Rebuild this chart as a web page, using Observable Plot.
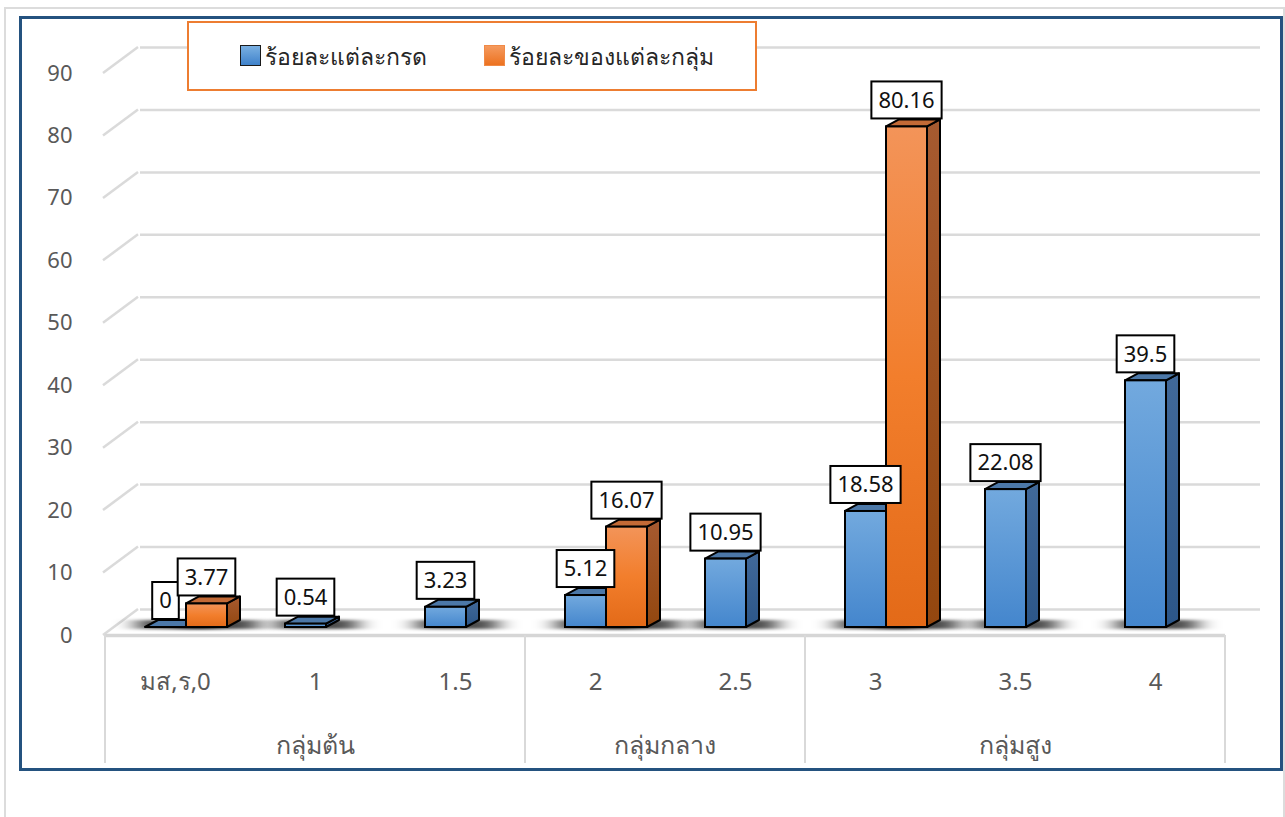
<!DOCTYPE html>
<html>
<head>
<meta charset="utf-8">
<script src="https://cdn.jsdelivr.net/npm/d3@7"></script>
<script src="https://cdn.jsdelivr.net/npm/@observablehq/plot@0.6"></script>
<style>
  body { margin: 0; background: #fff; }
  #wrap { position: relative; width: 1285px; height: 817px; overflow: hidden; font-family: "Noto Sans", "Open Sans", sans-serif; }
  .outer { position: absolute; left: 4px; top: 7px; width: 1277px; height: 830px; border: 2px solid #dcdcdc; }
  .frame { position: absolute; left: 19px; top: 16px; width: 1258px; height: 749px; border: 3px solid #24527f; }
  #chart { position: absolute; left: 0; top: 0; }
  #legend { position: absolute; left: 187px; top: 21px; width: 566px; height: 66px; border: 2px solid #ed7d31; background: #fff; }
  #legend .sw { position: absolute; top: 22px; width: 19px; height: 19px; border: 1.5px solid #1a1a1a; }
  #legend .tx { position: absolute; top: 0; height: 66px; line-height: 66px; font-size: 23px; color: #262626; white-space: nowrap; }
</style>
</head>
<body>
<div id="wrap">
  <div class="outer"></div>
  <div class="frame"></div>
  <div id="chart"></div>
  <div id="legend"></div>
</div>
<script>
// ---- data ----
const categories = ["มส,ร,0", "1", "1.5", "2", "2.5", "3", "3.5", "4"];
const gradePercent = [0, 0.54, 3.23, 5.12, 10.95, 18.58, 22.08, 39.5];
const groupCategories = ["มส,ร,0", "2", "3"];
const groupPercent = [3.77, 16.07, 80.16];
const groupNames = ["กลุ่มต้น", "กลุ่มกลาง", "กลุ่มสูง"];
const groupFirst = ["มส,ร,0", "2", "3"];
const groupLast = ["1.5", "2.5", "4"];
const yTicks = [0, 10, 20, 30, 40, 50, 60, 70, 80, 90];
const seriesNames = ["ร้อยละแต่ละกรด", "ร้อยละของแต่ละกลุ่ม"];

// ---- style constants ----
const FONT = '"Noto Sans", "Open Sans", sans-serif';
const DX = 13, DY = 7;          // bar depth
const LIFT = 8;                 // bars sit slightly behind the floor front edge
const WDX = 35, WDY = 26;       // wall depth
const BW = 41;                  // bar width
const BLUE_OFF = 40, ORANGE_OFF = 81;

const blueRows = categories.map((c, i) => ({c, v: gradePercent[i]}));
const orangeRows = groupCategories.map((c, i) => ({c, v: groupPercent[i]}));

function defs() {
  return () => {
    const s = d3.create("svg:defs");
    const lg = (id, stops, x2 = 0, y2 = 1) => {
      const g = s.append("linearGradient").attr("id", id).attr("x1", 0).attr("y1", 0).attr("x2", x2).attr("y2", y2);
      stops.forEach(([o, c]) => g.append("stop").attr("offset", o).attr("stop-color", c));
    };
    lg("gBlue", [[0, "#72a9de"], [1, "#4486cd"]]);
    lg("gBlueSide", [[0, "#41699a"], [1, "#2c5688"]]);
    lg("gOrange", [[0, "#f39459"], [0.5, "#f27e2c"], [1, "#e36a18"]]);
    lg("gOrangeSide", [[0, "#a65a30"], [1, "#93470f"]]);
    s.append("filter").attr("id", "shadowBlur").attr("x", "-60%").attr("y", "-300%").attr("width", "220%").attr("height", "700%")
      .append("feGaussianBlur").attr("stdDeviation", "11 1.6");
    return s.node();
  };
}

function wallDiagonals() {
  return (index, scales) => {
    const g = d3.create("svg:g").attr("fill", "none").attr("stroke", "#dadada").attr("stroke-width", 2.5);
    const x0 = scales.x(categories[0]) - 2;
    yTicks.forEach(t => {
      const y = scales.y(t);
      g.append("path").attr("d", `M${x0},${y}L${x0 + WDX},${y - WDY}`);
    });
    return g.node();
  };
}

function shadows(rows, off) {
  return (index, scales) => {
    const g = d3.create("svg:g").attr("filter", "url(#shadowBlur)");
    rows.forEach(r => {
      const xl = scales.x(r.c) + off;
      const yb = scales.y(0) - LIFT;
      g.append("rect").attr("x", xl - 8).attr("y", yb - DY).attr("width", BW + DX + 26).attr("height", DY + 2)
        .attr("fill", "#000").attr("fill-opacity", 0.7);
    });
    return g.node();
  };
}

function faces(rows, off, topFill, sideFill) {
  return (index, scales) => {
    const g = d3.create("svg:g").attr("stroke", "#000").attr("stroke-width", 2).attr("stroke-linejoin", "round");
    rows.forEach(r => {
      const xl = scales.x(r.c) + off, xr = xl + BW;
      const yb = scales.y(0) - LIFT, yt = scales.y(r.v) - LIFT;
      g.append("path").attr("fill", sideFill)
        .attr("d", `M${xr},${yt}L${xr + DX},${yt - DY}L${xr + DX},${yb - DY}L${xr},${yb}Z`);
      g.append("path").attr("fill", topFill)
        .attr("d", `M${xl},${yt}L${xl + DX},${yt - DY}L${xr + DX},${yt - DY}L${xr},${yt}Z`);
    });
    return g.node();
  };
}

const measureCtx = document.createElement("canvas").getContext("2d");
function labels(rows, off) {
  return (index, scales) => {
    measureCtx.font = `22px ${FONT}`;
    const g = d3.create("svg:g");
    rows.forEach(r => {
      const cx = scales.x(r.c) + off + BW / 2;
      const yt = scales.y(r.v) - LIFT;
      const txt = String(r.v);
      const w = measureCtx.measureText(txt).width + 14;
      const h = 37;
      const yb = yt - 8;
      g.append("rect").attr("x", cx - w / 2).attr("y", yb - h).attr("width", w).attr("height", h)
        .attr("fill", "#fff").attr("stroke", "#000").attr("stroke-width", 2);
      g.append("text").attr("x", cx).attr("y", yb - h / 2).attr("dy", "0.35em").attr("text-anchor", "middle")
        .attr("font-size", 22).attr("fill", "#111").text(txt);
    });
    return g.node();
  };
}

function groupAxis() {
  return (index, scales) => {
    const g = d3.create("svg:g");
    const bw = scales.x.bandwidth();
    const y0 = scales.y(0);
    const xs = groupFirst.map(c => scales.x(c)).concat([scales.x(groupLast[groupLast.length - 1]) + bw]);
    xs.forEach(x => g.append("line").attr("x1", x).attr("x2", x).attr("y1", y0).attr("y2", y0 + 128)
      .attr("stroke", "#d9d9d9").attr("stroke-width", 2));
    groupNames.forEach((n, i) => {
      const cx = (scales.x(groupFirst[i]) + scales.x(groupLast[i]) + bw) / 2;
      g.append("text").attr("x", cx).attr("y", y0 + 110).attr("dy", "0.35em").attr("text-anchor", "middle")
        .attr("font-size", 25).attr("fill", "#595959").text(n);
    });
    return g.node();
  };
}

const chart = Plot.plot({
  width: 1285,
  height: 817,
  marginLeft: 105,
  marginRight: 60,
  marginTop: 73,
  marginBottom: 182,
  style: {fontFamily: FONT, background: "transparent", overflow: "visible"},
  x: {type: "band", domain: categories, padding: 0, axis: null},
  y: {domain: [0, 90], axis: null},
  marks: [
    defs(),
    Plot.ruleY(yTicks, {dx: WDX, dy: -WDY, stroke: "#dadada", strokeWidth: 2.5}),
    wallDiagonals(),
    Plot.ruleY([0], {stroke: "#d6d6d6", strokeWidth: 3.5}),
    shadows(blueRows, BLUE_OFF),
    shadows(orangeRows, ORANGE_OFF),
    faces(blueRows, BLUE_OFF, "#4c78a8", "url(#gBlueSide)"),
    Plot.barY(blueRows, {x: "c", y: "v", insetLeft: BLUE_OFF, insetRight: 140 - BLUE_OFF - BW, dy: -LIFT,
      fill: "url(#gBlue)", stroke: "#000", strokeWidth: 2}),
    faces(orangeRows, ORANGE_OFF, "#c36a36", "url(#gOrangeSide)"),
    Plot.barY(orangeRows, {x: "c", y: "v", insetLeft: ORANGE_OFF, insetRight: 140 - ORANGE_OFF - BW, dy: -LIFT,
      fill: "url(#gOrange)", stroke: "#000", strokeWidth: 2}),
    labels(blueRows, BLUE_OFF),
    labels(orangeRows, ORANGE_OFF),
    Plot.axisY(yTicks, {tickSize: 0, tickPadding: 33, fontSize: 22, fill: "#595959", label: null}),
    Plot.text(categories, {x: d => d, y: () => 0, dy: 47, fontSize: 24, fill: "#595959"}),
    groupAxis()
  ]
});
document.getElementById("chart").appendChild(chart);

// legend
const legend = d3.select("#legend");
const swCss = ["linear-gradient(#7ab0e2,#3f82cb)", "linear-gradient(#f59a5e,#ec7220)"];
const swLeft = [51, 295];
seriesNames.forEach((n, i) => {
  legend.append("div").attr("class", "sw").style("left", swLeft[i] + "px").style("background", swCss[i])
    .style("border-color", i === 0 ? "#1a1a1a" : "#f08a47");
  legend.append("div").attr("class", "tx").style("left", (swLeft[i] + 25) + "px").text(n);
});
</script>
</body>
</html>
